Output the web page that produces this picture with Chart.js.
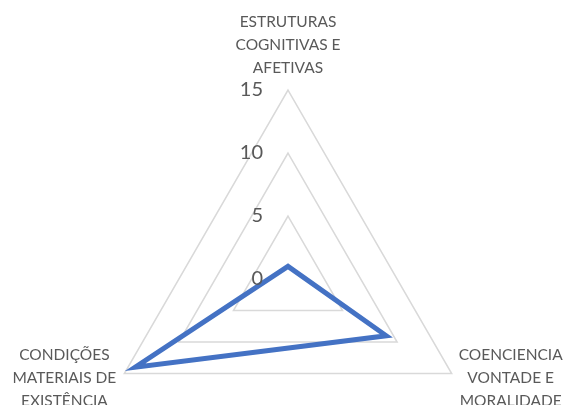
<!DOCTYPE html>
<html>
<head>
<meta charset="utf-8">
<script src="https://cdn.jsdelivr.net/npm/chart.js@4/dist/chart.umd.min.js"></script>
<style>
  html, body { margin: 0; padding: 0; background: #fff; overflow: hidden; }
  #wrap { width: 564px; height: 470px; }
</style>
</head>
<body>
<div id="wrap"><canvas id="radarChart" width="564" height="470"></canvas></div>
<script>
// Chart data
const categories = [
  ['ESTRUTURAS', 'COGNITIVAS E', 'AFETIVAS'],
  ['COENCIENCIA', 'VONTADE E', 'MORALIDADE'],
  ['CONDIÇÕES', 'MATERIAIS DE', 'EXISTÊNCIA']
];
const values = [1, 9, 14];
const tickValues = [0, 5, 10, 15];

const textColor = '#595959';
const fontFamily = 'Lato, "Open Sans", sans-serif';

// Tick labels sit to the left of the vertical axis, point labels centered on the vertices
const labelPlugin = {
  id: 'customLabels',
  afterDraw(chart) {
    const scale = chart.scales.r;
    const ctx = chart.ctx;
    ctx.save();
    ctx.fillStyle = textColor;

    // tick labels
    ctx.font = '20px ' + fontFamily;
    ctx.textAlign = 'right';
    ctx.textBaseline = 'middle';
    tickValues.forEach(v => {
      const d = scale.getDistanceFromCenterForValue(v);
      ctx.fillText(String(v), scale.xCenter - 25, scale.yCenter - d);
    });

    // point labels
    ctx.font = '15.5px ' + fontFamily;
    ctx.textAlign = 'center';
    const lineH = 23;
    categories.forEach((lines, i) => {
      const p = scale.getPointPosition(i, scale.drawingArea);
      const w = Math.max(...lines.map(l => ctx.measureText(l).width));
      let cx, firstY;
      if (i === 0) {
        cx = p.x;
        firstY = p.y - 22 - lineH * (lines.length - 1);
      } else if (i === 1) {
        cx = p.x + 7 + w / 2;
        firstY = p.y + 4 - lineH;
      } else {
        cx = p.x - 8 - w / 2;
        firstY = p.y + 4 - lineH;
      }
      lines.forEach((l, k) => ctx.fillText(l, cx, firstY + k * lineH));
    });
    ctx.restore();
  }
};

const ctx = document.getElementById('radarChart').getContext('2d');
const radarChart = new Chart(ctx, {
  type: 'radar',
  data: {
    labels: categories,
    datasets: [{
      data: values,
      borderColor: '#4472C4',
      backgroundColor: 'rgba(0,0,0,0)',
      borderWidth: 5,
      pointRadius: 0,
      fill: false,
      tension: 0
    }]
  },
  options: {
    responsive: false,
    animation: false,
    layout: { padding: { left: 12, right: 0, top: 90, bottom: 2 } },
    scales: {
      r: {
        min: 0,
        max: 15,
        ticks: { stepSize: 5, display: false },
        grid: { color: '#d9d9d9', lineWidth: 1.5 },
        angleLines: { display: false },
        pointLabels: { display: false }
      }
    },
    plugins: {
      legend: { display: false },
      tooltip: { enabled: false }
    }
  },
  plugins: [labelPlugin]
});
</script>
</body>
</html>
